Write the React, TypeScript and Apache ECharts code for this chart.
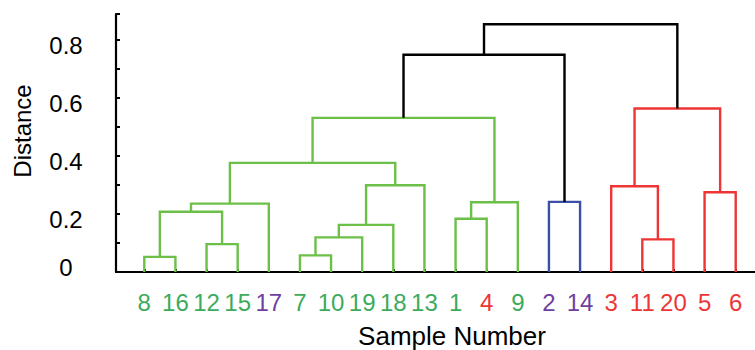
import React, { useEffect, useRef } from "react";
import * as echarts from "echarts";

// Leaf order along the x axis (sample numbers) and label colour groups
const leaves = ["8", "16", "12", "15", "17", "7", "10", "19", "18", "13", "1", "4", "9", "2", "14", "3", "11", "20", "5", "6"];
const leafGroup = ["g", "g", "g", "g", "p", "g", "g", "g", "g", "g", "g", "r", "g", "p", "p", "r", "r", "r", "r", "r"];

// Merges: node ids 0..19 are leaves, each merge k creates node 20+k
const mergeLeft = [0, 2, 20, 22, 5, 24, 25, 26, 23, 10, 29, 28, 13, 31, 16, 15, 18, 35, 33];
const mergeRight = [1, 3, 21, 4, 6, 7, 8, 9, 27, 11, 12, 30, 14, 32, 17, 34, 19, 36, 37];
const mergeHeight = [0.052, 0.096, 0.207, 0.235, 0.057, 0.119, 0.162, 0.298, 0.375, 0.183, 0.24, 0.53, 0.241, 0.747, 0.112, 0.295, 0.274, 0.562, 0.852];
const mergeColor = [0, 0, 0, 0, 0, 0, 0, 0, 0, 0, 0, 0, 1, 3, 2, 2, 2, 2, 3];

const yTickValues = [0, 0.2, 0.4, 0.6, 0.8];

const linkColors = ["#6cc048", "#3b4fa8", "#ee3535", "#000000"];
const labelColors: Record<string, string> = { g: "#3cab5c", p: "#6f3f9f", r: "#ee3535" };

function buildLinks() {
  const nodeX: number[] = leaves.map((_, i) => i);
  const nodeY: number[] = leaves.map(() => 0);
  const rows: number[][] = [];
  for (let k = 0; k < mergeLeft.length; k++) {
    const a = mergeLeft[k];
    const b = mergeRight[k];
    const h = mergeHeight[k];
    rows.push([nodeX[a], nodeY[a], nodeX[b], nodeY[b], h, mergeColor[k]]);
    nodeX.push((nodeX[a] + nodeX[b]) / 2);
    nodeY.push(h);
  }
  return rows;
}

export default function App() {
  const ref = useRef<HTMLDivElement>(null);
  useEffect(() => {
    document.body.style.margin = "0";
    document.body.style.overflow = "hidden";
    const chart = echarts.init(ref.current!, null, { renderer: "svg" });
    const rows = buildLinks();
    const font = "Liberation Sans, Arial, sans-serif";
    const xRich: Record<string, any> = {};
    Object.keys(labelColors).forEach((k) => {
      xRich[k] = { color: labelColors[k], fontSize: 24, fontFamily: font };
    });
    chart.setOption({
      animation: false,
      grid: { left: 116, right: 0, top: 14, bottom: 78, containLabel: false, outerBoundsMode: "none" },
      xAxis: {
        type: "value",
        min: -0.909,
        max: 19.62,
        splitLine: { show: false },
        axisLine: { show: true, onZero: false, lineStyle: { color: "#000", width: 2.2 } },
        axisTick: {
          show: true,
          inside: true,
          length: 3,
          lineStyle: { color: "#000", width: 2 },
          customValues: leaves.map((_, i) => i),
        },
        axisLabel: {
          show: true,
          margin: 18,
          customValues: leaves.map((_, i) => i),
          formatter: (v: number) => {
            const i = Math.round(v);
            return "{" + leafGroup[i] + "|" + leaves[i] + "}";
          },
          rich: xRich,
        },
      },
      yAxis: {
        type: "value",
        min: 0,
        max: 0.887,
        interval: 0.1,
        splitLine: { show: false },
        axisLine: { show: true, onZero: false, lineStyle: { color: "#000", width: 2.2 } },
        axisTick: { show: true, inside: true, length: 4, lineStyle: { color: "#000", width: 2 } },
        axisLabel: {
          margin: 50,
          align: "center",
          verticalAlign: "middle",
          formatter: (v: number) => {
            const match = yTickValues.find((t) => Math.abs(t - v) < 1e-6);
            if (match === undefined) return "";
            if (match === 0) return "{z|0}";
            return "{a|" + match.toFixed(1) + "}";
          },
          rich: {
            a: { fontSize: 24, color: "#000", fontFamily: font, padding: [12, 0, 0, 0] },
            z: { fontSize: 24, color: "#000", fontFamily: font, padding: [0, 0, 9, 0] },
          },
        },
      },
      graphic: [
        {
          type: "text",
          x: 22,
          y: 131,
          rotation: Math.PI / 2,
          style: { text: "Distance", fontSize: 24, fontFamily: font, fill: "#000", align: "center", verticalAlign: "middle" },
        },
        {
          type: "text",
          x: 452,
          y: 336,
          style: { text: "Sample Number", fontSize: 26, fontFamily: font, fill: "#000", align: "center", verticalAlign: "middle" },
        },
      ],
      series: [
        {
          type: "custom",
          data: rows,
          encode: { x: [0, 2], y: [1, 3, 4] },
          renderItem: (params: any, api: any) => {
            const x1 = api.value(0);
            const y1 = api.value(1);
            const x2 = api.value(2);
            const y2 = api.value(3);
            const h = api.value(4);
            const c = api.value(5);
            const pts = [api.coord([x1, y1]), api.coord([x1, h]), api.coord([x2, h]), api.coord([x2, y2])];
            return {
              type: "polyline",
              shape: { points: pts },
              style: { stroke: linkColors[c], lineWidth: 2.4, fill: "none" },
            };
          },
        },
      ],
    });
    return () => chart.dispose();
  }, []);
  return <div ref={ref} style={{ width: 755, height: 350 }} />;
}
